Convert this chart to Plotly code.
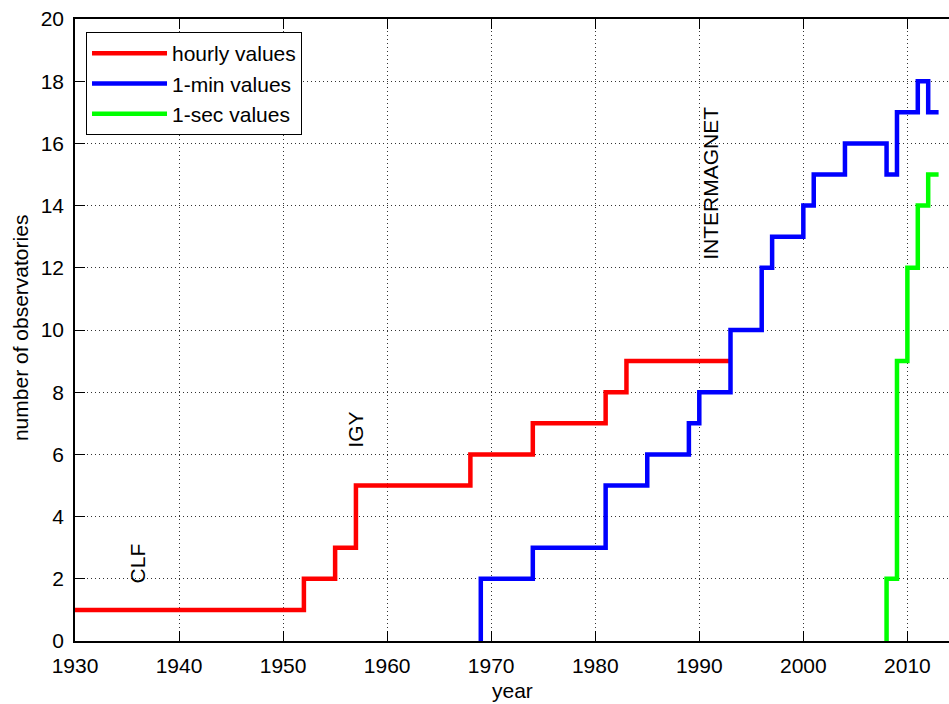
import plotly.graph_objects as go

# --- data ---
hourly_years = [1930, 1952, 1955, 1957, 1968, 1974, 1981, 1983, 1993]
hourly_counts = [1, 2, 3, 5, 6, 7, 8, 9, 9]

min_years = [1969, 1969, 1974, 1981, 1985, 1989, 1990, 1993, 1996, 1997,
             2000, 2001, 2004, 2008, 2009, 2011, 2012, 2013]
min_counts = [0, 2, 3, 5, 6, 7, 8, 10, 12, 13, 14, 15, 16, 15, 17, 18, 17, 17]

sec_years = [2008, 2008, 2009, 2010, 2011, 2012, 2013]
sec_counts = [0, 2, 9, 12, 14, 15, 15]

event_labels = ["CLF", "IGY", "INTERMAGNET"]
event_years = [1936, 1957, 1991]
event_levels = [1.8, 6.15, 12.2]

x_ticks = [1930, 1940, 1950, 1960, 1970, 1980, 1990, 2000, 2010]
y_ticks = list(range(0, 21, 2))

FONT = "Liberation Sans, Arial, Helvetica, sans-serif"
FS = 21

fig = go.Figure()
fig.add_trace(go.Scatter(x=hourly_years, y=hourly_counts, mode="lines",
                         line=dict(color="#FF0000", width=4.5, shape="hv"),
                         name="hourly values"))
fig.add_trace(go.Scatter(x=min_years, y=min_counts, mode="lines",
                         line=dict(color="#0000FF", width=4.5, shape="hv"),
                         name="1-min values"))
fig.add_trace(go.Scatter(x=sec_years, y=sec_counts, mode="lines",
                         line=dict(color="#00FF00", width=4.5, shape="hv"),
                         name="1-sec values"))
# invisible trace to carry the top axis
fig.add_trace(go.Scatter(x=[x_ticks[0]], y=[0], xaxis="x2", mode="markers",
                         marker=dict(opacity=0), showlegend=False, hoverinfo="skip"))

for lab, xv, yv in zip(event_labels, event_years, event_levels):
    fig.add_annotation(x=xv, y=yv, text=lab, textangle=-90, showarrow=False,
                       xanchor="center", yanchor="bottom",
                       font=dict(family=FONT, size=FS, color="black"))

# axis titles
fig.add_annotation(x=0.5, y=-0.08, xref="paper", yref="paper", text="year",
                   showarrow=False, xanchor="center", yanchor="middle",
                   font=dict(family=FONT, size=FS, color="black"))
fig.add_annotation(x=-0.063, y=0.503, xref="paper", yref="paper",
                   text="number of observatories", textangle=-90,
                   showarrow=False, xanchor="center", yanchor="middle",
                   font=dict(family=FONT, size=FS, color="black"))

axis_common = dict(showgrid=True, gridcolor="#333333", griddash="1px,3px", gridwidth=1,
                   ticks="inside", ticklen=10, tickcolor="black", tickwidth=1,
                   showline=True, linecolor="black", linewidth=1.5, zeroline=False,
                   automargin=False, ticklabelstandoff=5,
                   tickfont=dict(family=FONT, size=FS, color="black"))

fig.update_layout(
    width=949, height=704,
    margin=dict(l=75, r=0, t=19, b=63),
    paper_bgcolor="white", plot_bgcolor="white",
    font=dict(family=FONT, size=FS, color="black"),
    xaxis=dict(range=[1930, 2014], tickvals=x_ticks, **axis_common),
    xaxis2=dict(range=[1930, 2014], overlaying="x", side="top", tickvals=x_ticks,
                showticklabels=False, ticks="inside", ticklen=10, tickcolor="black",
                showline=True, linecolor="black", linewidth=1.5, showgrid=False,
                zeroline=False, automargin=False),
    yaxis=dict(range=[0, 20], tickvals=y_ticks, **axis_common),
    legend=dict(x=0.0126, y=0.979, xanchor="left", yanchor="top",
                bgcolor="white", bordercolor="black", borderwidth=1,
                font=dict(family=FONT, size=FS, color="black"),
                tracegroupgap=0, itemwidth=75),
    showlegend=True,
)

fig.write_html("out.html", config={"displayModeBar": False},
               post_script="document.body.style.margin='0';document.body.style.overflow='hidden';")
